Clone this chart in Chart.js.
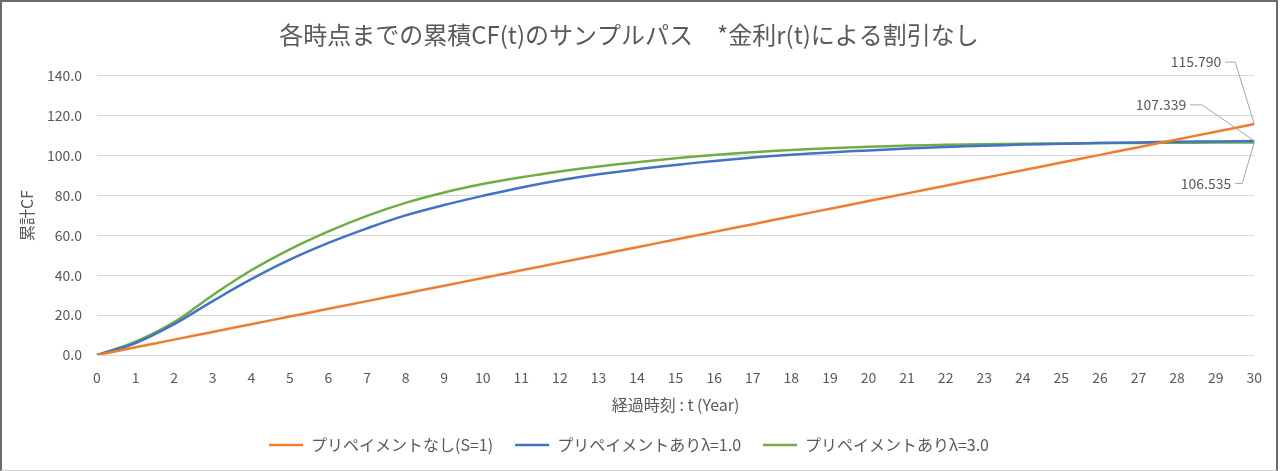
<!DOCTYPE html>
<html>
  <head>
    <title>累積CF サンプルパス</title>
    <meta charset="utf-8" />
    <script src="https://cdn.jsdelivr.net/npm/chart.js"></script>
    <style>
      html, body { margin: 0; padding: 0; background: #fff; }
      #frame {
        position: absolute; left: 0; top: 0;
        width: 1274px; height: 468px;
        border: 2px solid #6b6b6b;
        border-bottom: 1px solid #cfcfcf;
        background: #fff;
      }
    </style>
  </head>
  <body>
    <div id="frame">
      <canvas id="cf-chart" width="1274" height="468"></canvas>
    </div>

    <script>
      // x axis: elapsed years
      var years = ["0","1","2","3","4","5","6","7","8","9","10","11","12","13","14","15",
                   "16","17","18","19","20","21","22","23","24","25","26","27","28","29","30"];

      // cumulative CF, no prepayment (S=1)
      var noPrepay = [0, 3.86, 7.72, 11.58, 15.44, 19.30, 23.16, 27.02, 30.88, 34.74, 38.60,
                      42.46, 46.32, 50.18, 54.04, 57.90, 61.75, 65.61, 69.47, 73.33, 77.19,
                      81.05, 84.91, 88.77, 92.63, 96.49, 100.35, 104.21, 108.07, 111.93, 115.790];

      // prepayment, lambda = 1.0
      var prepayL1 = [0, 6.0, 15.5, 27.0, 38.0, 47.8, 56.2, 63.5, 70.0, 75.2, 79.8,
                      84.0, 87.6, 90.6, 93.1, 95.3, 97.3, 99.0, 100.4, 101.6, 102.6,
                      103.5, 104.3, 104.9, 105.5, 105.9, 106.3, 106.6, 106.9, 107.1, 107.339];

      // prepayment, lambda = 3.0
      var prepayL3 = [0, 6.7, 16.5, 30.0, 42.5, 53.0, 62.0, 69.8, 76.3, 81.5, 85.7,
                      89.1, 92.0, 94.5, 96.7, 98.6, 100.3, 101.7, 102.8, 103.7, 104.4,
                      105.0, 105.4, 105.7, 105.95, 106.1, 106.25, 106.35, 106.43, 106.5, 106.535];

      var seriesNames = ["プリペイメントなし(S=1)", "プリペイメントあり\u03bb=1.0", "プリペイメントあり\u03bb=3.0"];
      var seriesColors = ["#ED7D31", "#4472C4", "#70AD47"];

      var FONT = '"Noto Sans CJK JP", "Noto Sans", sans-serif';
      var GREY = "#595959";

      // label offsets for the end-point values (relative to the last point)
      var endLabelOffsets = [
        { dx: -33, dy: -62, hx: -19 },
        { dx: -68, dy: -36, hx: -52 },
        { dx: -23, dy: 41, hx: -12 }
      ];

      var endLabels = {
        id: "endLabels",
        afterDatasetsDraw: function (chart) {
          var ctx = chart.ctx;
          ctx.save();
          ctx.font = "14px " + FONT;
          ctx.textAlign = "right";
          ctx.textBaseline = "middle";
          chart.data.datasets.forEach(function (ds, i) {
            var meta = chart.getDatasetMeta(i);
            var pt = meta.data[meta.data.length - 1];
            var off = endLabelOffsets[i];
            var tx = pt.x + off.dx;
            var ty = pt.y + off.dy;
            ctx.fillStyle = GREY;
            ctx.fillText(ds.data[ds.data.length - 1].toFixed(3), tx, ty);
            ctx.strokeStyle = "#a6a6a6";
            ctx.lineWidth = 1;
            ctx.beginPath();
            ctx.moveTo(tx + 4, ty);
            ctx.lineTo(pt.x + off.hx, ty);
            ctx.lineTo(pt.x, pt.y);
            ctx.stroke();
          });
          ctx.restore();
        }
      };

      function makeDataset(data, i) {
        return {
          label: seriesNames[i],
          data: data,
          borderColor: seriesColors[i],
          backgroundColor: seriesColors[i],
          borderWidth: 2.5,
          pointRadius: 0,
          fill: false,
          tension: 0.4
        };
      }

      var chart = new Chart(document.getElementById("cf-chart"), {
        type: "line",
        data: {
          labels: years,
          datasets: [makeDataset(noPrepay, 0), makeDataset(prepayL1, 1), makeDataset(prepayL3, 2)]
        },
        plugins: [endLabels],
        options: {
          responsive: false,
          animation: false,
          layout: { padding: { left: 0, right: 20, top: 0, bottom: 7 } },
          plugins: {
            title: {
              display: true,
              text: "各時点までの累積CF(t)のサンプルパス　*金利r(t)による割引なし",
              color: GREY,
              font: { family: FONT, size: 24, weight: "normal" },
              padding: { top: 18, bottom: 27 }
            },
            legend: {
              position: "bottom",
              labels: {
                color: GREY,
                font: { family: FONT, size: 16 },
                usePointStyle: true,
                pointStyle: "line",
                pointStyleWidth: 34,
                padding: 22
              }
            },
            tooltip: { enabled: false }
          },
          scales: {
            x: {
              grid: { display: false, drawTicks: false },
              border: { display: false },
              ticks: { color: GREY, font: { family: FONT, size: 14 }, padding: 14, maxRotation: 0, autoSkip: false },
              title: {
                display: true,
                text: "経過時刻 : t (Year)",
                color: GREY,
                font: { family: FONT, size: 16 },
                padding: { top: 0, bottom: 0 }
              },
              afterFit: function (scale) { scale.height = 60; }
            },
            y: {
              min: 0,
              max: 140,
              grid: { color: "#d9d9d9", lineWidth: 1, drawTicks: false },
              border: { display: false },
              ticks: {
                stepSize: 20,
                color: GREY,
                font: { family: FONT, size: 14 },
                padding: 15,
                callback: function (v) { return v.toFixed(1); }
              },
              title: {
                display: true,
                text: "累計CF",
                color: GREY,
                font: { family: FONT, size: 16 },
                padding: { top: 15, bottom: 0 }
              },
              afterFit: function (scale) { scale.width = 95; }
            }
          }
        }
      });
    </script>
  </body>
</html>
